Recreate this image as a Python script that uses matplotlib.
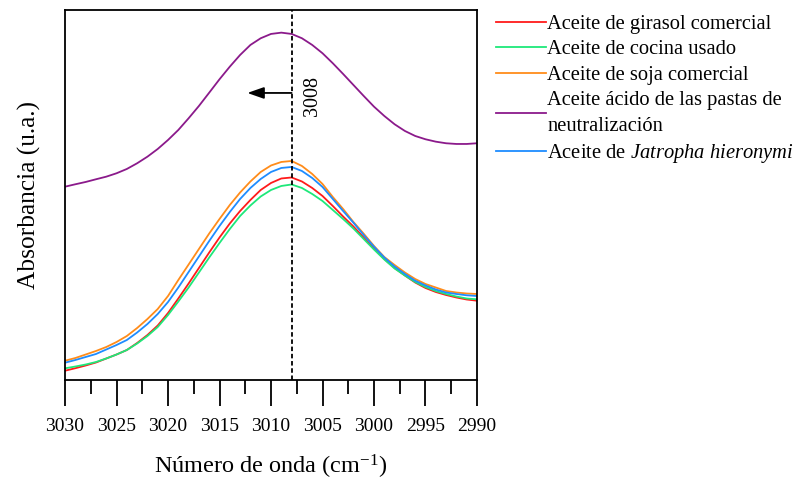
import matplotlib.pyplot as plt
import numpy as np

plt.rcParams['font.family'] = ['Liberation Serif', 'DejaVu Serif']
plt.rcParams['mathtext.fontset'] = 'custom'
plt.rcParams['mathtext.rm'] = 'Liberation Serif'
plt.rcParams['mathtext.it'] = 'Liberation Serif:italic'

# wavenumbers (cm-1) and absorbance (arbitrary units)
wavenumber = list(range(3030, 2989, -1))

girasol = [9.3, 11.8, 14.5, 17.5, 21.5, 25.5, 30, 37, 45, 54.5,
           67, 81.5, 96.5, 112, 127.5, 142.5, 156.5, 169, 180, 190,
           197, 201.5, 202.5, 198.5, 192, 184, 174, 163.5, 153.5, 142.5,
           131.5, 121, 112, 104.5, 97.5, 92, 88, 85, 82.5, 80.5, 79.3]
cocina = [11.7, 13.5, 15.5, 18, 21.5, 25.5, 30, 36.5, 44, 53,
          65, 78.5, 92.5, 107.5, 122.5, 137, 151, 164, 174.5, 183.5,
          190, 194, 195.5, 192, 186, 179, 170, 161, 151.5, 141,
          130.5, 120.5, 111.5, 104.5, 98, 93, 89, 86, 83.5, 81.5, 80.7]
soja = [19.3, 22, 25.5, 29, 33, 38, 44, 52, 61, 71,
        84, 100, 115.5, 131, 146.5, 161, 175, 187.5, 198.5, 208,
        214.5, 218, 219, 214, 206, 196, 183, 171, 158, 146.3,
        134, 123, 115, 107.5, 101, 96, 92.5, 89, 87.5, 86.5, 86]
acido = [193.3, 195.7, 198, 200.7, 203.3, 206.7, 211, 216.7, 223.3, 231,
         240, 250, 261.7, 274, 287.3, 300.7, 313.3, 325, 335, 341.7,
         346, 347.3, 346, 341.7, 335, 326.7, 316.7, 306, 295, 284,
         273.3, 264, 255.7, 249, 244, 240.7, 238.3, 236.7, 236, 236, 236.7]
jatropha = [17.3, 20, 23, 26, 30.5, 35, 40, 47.5, 56, 66,
            78, 92.5, 108, 123.5, 139, 154, 168, 181, 192, 201,
            208, 212, 213, 209, 202, 193, 181, 169, 157.3, 145,
            133.3, 122.5, 113.5, 106, 99.3, 94.5, 90.5, 87.5, 86, 84.7, 84]

labels = ['Aceite de girasol comercial',
          'Aceite de cocina usado',
          'Aceite de soja comercial',
          'Aceite ácido de las pastas de\nneutralización',
          r'Aceite de $\mathit{Jatropha}$ $\mathit{hieronymi}$']
colors = ['#ff1a1a', '#1ee87a', '#ff8c1a', '#8b1a8b', '#1e8cff']
series = [girasol, cocina, soja, acido, jatropha]

peak = 3008

fig = plt.figure(figsize=(8.03, 4.8), dpi=100)
ax = fig.add_axes([0.081, 0.2083, 0.513, 0.771])

for ys, c, lab in zip(series, colors, labels):
    ax.plot(wavenumber, ys, color=c, lw=1.3, label=lab)

ax.axvline(peak, color='black', lw=1.3, ls=(0, (2.5, 1.5)))
ax.annotate('', xy=(3012.3, 287), xytext=(peak, 287),
            arrowprops=dict(arrowstyle='-|>,head_length=1.0,head_width=0.35',
                            color='black', lw=1.3, shrinkA=0, shrinkB=0))
ax.text(3006.0, 284, str(peak), rotation=90, fontsize=14.5,
        ha='center', va='center')

ax.set_xlim(3030, 2990)
ax.set_ylim(0, 370)
ax.set_xticks(np.arange(3030, 2989, -5))
ax.set_xticks(np.arange(3030, 2989, -2.5), minor=True)
ax.tick_params(axis='x', which='major', direction='out', length=19, width=1.3,
               labelsize=14, pad=8)
ax.tick_params(axis='x', which='minor', direction='out', length=10, width=1.3)
ax.set_yticks([])
for sp in ax.spines.values():
    sp.set_linewidth(1.3)

ax.set_xlabel('Número de onda (cm$^{-1}$)', fontsize=17.5, labelpad=13)
ax.set_ylabel('Absorbancia (u.a.)', fontsize=18.3, labelpad=17)

leg = fig.legend(loc='upper left', bbox_to_anchor=(0.6, 1.0), frameon=False,
                 fontsize=14.8, handlelength=2.4, handletextpad=0.08,
                 labelspacing=0.3, borderpad=0.2)
for t in leg.get_texts():
    t.set_linespacing(1.5)

fig.savefig('out.png', dpi=100)
